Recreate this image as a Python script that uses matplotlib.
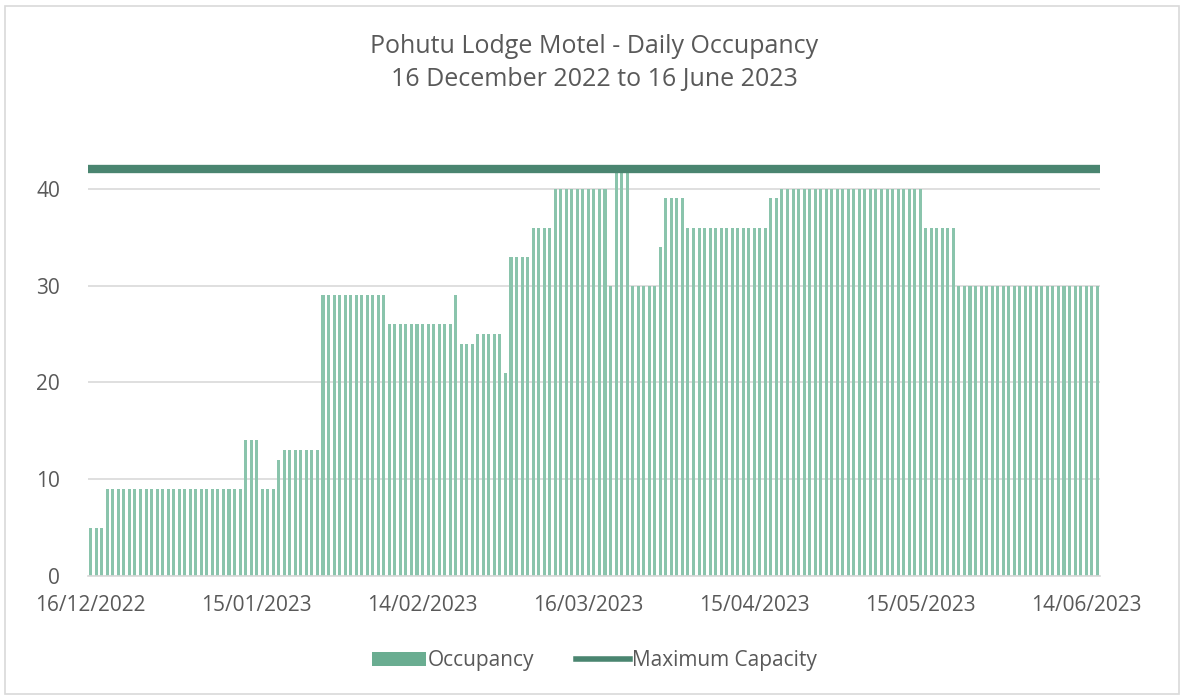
import numpy as np
import pandas as pd
import matplotlib
matplotlib.use("Agg")
import matplotlib.pyplot as plt
from matplotlib.patches import Rectangle, Patch
from matplotlib.lines import Line2D

# ------------------------------------------------------------
# Data: daily occupancy as runs of (level, number of days)
# ------------------------------------------------------------
start_date = "2022-12-16"
n_days = 183
levels = [5, 9, 14, 9, 12, 13, 29, 26, 29, 24, 25, 21, 33, 36, 40, 30, 42,
          30, 34, 39, 36, 39, 40, 36, 30]
run_days = [3, 25, 3, 3, 1, 7, 12, 12, 1, 3, 5, 1, 4, 4, 10, 1, 3,
            5, 1, 4, 15, 2, 26, 6, 26]
max_capacity = 42

occupancy = np.repeat(levels, run_days)
dates = pd.date_range(start_date, periods=n_days, freq="D")
tick_idx = [0, 30, 60, 90, 120, 150, 180]
tick_labels = [dates[i].strftime("%d/%m/%Y") for i in tick_idx]

# ------------------------------------------------------------
# Plot
# ------------------------------------------------------------
plt.rcParams["font.family"] = ["Open Sans", "DejaVu Sans"]
grey = "#595959"

fig = plt.figure(figsize=(11.84, 6.97), dpi=100)
ax = fig.add_axes([0.0743, 0.1736, 0.8547, 0.625])

x = np.arange(n_days)
ax.bar(x, occupancy, width=0.55, color="#8AC4AC", zorder=2)
ax.plot([-0.5, n_days - 0.5], [max_capacity, max_capacity],
        color="#4A8570", lw=6, solid_capstyle="butt", zorder=3)

ax.set_xlim(-0.5, n_days - 0.5)
ax.set_ylim(0, 45)
ax.set_yticks([0, 10, 20, 30, 40])
ax.set_xticks(tick_idx)
ax.set_xticklabels(tick_labels)
ax.tick_params(axis="both", length=0, labelsize=15, colors=grey)
ax.tick_params(axis="x", pad=14)
ax.tick_params(axis="y", pad=20)
ax.yaxis.grid(True, color="#D9D9D9", lw=1.2, zorder=0)
ax.set_axisbelow(True)
for s in ["top", "right", "left"]:
    ax.spines[s].set_visible(False)
ax.spines["bottom"].set_color("#D9D9D9")
ax.spines["bottom"].set_linewidth(1.2)

fig.text(0.502, 0.934, "Pohutu Lodge Motel - Daily Occupancy",
         ha="center", va="center", fontsize=18, color=grey)
fig.text(0.502, 0.886, "16 December 2022 to 16 June 2023",
         ha="center", va="center", fontsize=18, color=grey)

handles = [Patch(facecolor="#6AAD91", label="Occupancy"),
           Line2D([0], [0], color="#4A8570", lw=4, label="Maximum Capacity")]
fig.legend(handles=handles, loc="center", bbox_to_anchor=(0.502, 0.052),
           ncol=2, frameon=False, fontsize=15, labelcolor=grey,
           handlelength=2.6, handletextpad=0.1, columnspacing=2.0)

# light outer border like the exported chart area
fig.patches.append(Rectangle((0.004, 0.004), 0.992, 0.988, transform=fig.transFigure,
                             fill=False, edgecolor="#D9D9D9", lw=1.2))

fig.savefig("out.png", dpi=100)
